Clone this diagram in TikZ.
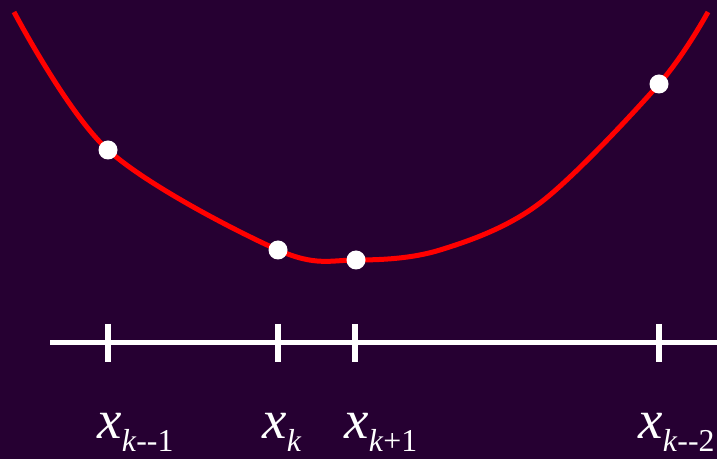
\documentclass[tikz,border=0pt]{standalone}
\usepackage{fontspec}
\setmainfont{Liberation Serif}
\definecolor{bgpurple}{RGB}{38,0,50}
\definecolor{curvered}{RGB}{255,0,0}
\newcommand{\xsub}[1]{\scalebox{1.105}{\fontspec{Liberation Serif}\Huge
  \textit{x}\raisebox{-6.3pt}{\Large #1}}}
\tikzset{sample/.style={circle,fill=white,inner sep=0pt,minimum size=9.5pt},
  curve/.style={curvered,line width=2.5pt},
  axis/.style={white,line width=2.5pt},
  tick/.style={white,line width=3pt},
  ticklabel/.style={anchor=base west,inner sep=0pt,text=white}}
\begin{document}
\begin{tikzpicture}[x=0.5pt, y=-0.5pt]
\fill[bgpurple] (0,0) rectangle (717,459);
\useasboundingbox (0,0) rectangle (717,459);
% function
\draw[curve] plot[smooth, tension=0.55] coordinates {(14,12) (108,150)
  (278,250) (356,260) (440,250) (540,203) (659,84) (708,12)};
\node[sample] (p1) at (108,150) {};
\node[sample] (p2) at (278,250) {};
\node[sample] (p3) at (356,260) {};
\node[sample] (p4) at (659,84) {};
% axis
\coordinate (a0) at (50,343);
\coordinate (a1) at (717,343);
\draw[axis] (a0) -- (a1);
\foreach \t in {108,278,355,659}
  \draw[tick] (\t,324) -- (\t,362);
\node[ticklabel] (l1) at (97,438) {\xsub{\textit{k}--1}};
\node[ticklabel] (l2) at (262,438) {\xsub{\textit{k}}};
\node[ticklabel] (l3) at (344,438) {\xsub{\textit{k}+1}};
\node[ticklabel] (l4) at (638,438) {\xsub{\textit{k}--2}};
\end{tikzpicture}
\end{document}
